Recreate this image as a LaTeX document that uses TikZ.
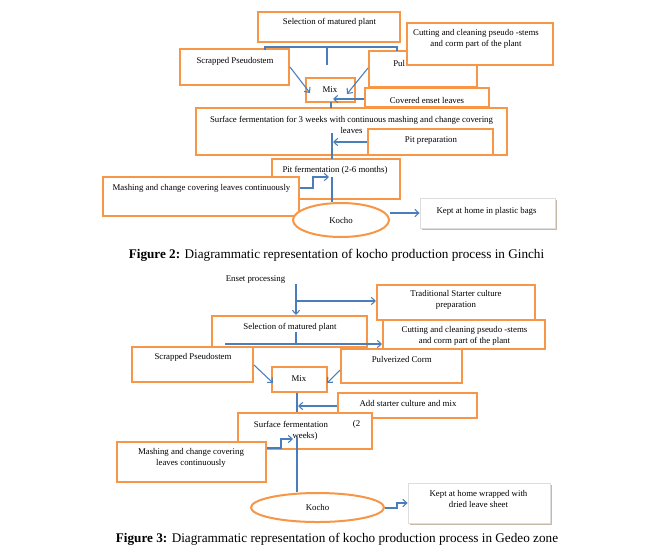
\documentclass[tikz,border=0pt]{standalone}
\usepackage{fontspec}
\setmainfont{Liberation Serif}
\usetikzlibrary{arrows.meta,shapes.geometric,fit}
\definecolor{orng}{HTML}{F79646}
\definecolor{blu}{HTML}{4A7EBB}
\definecolor{shd}{HTML}{C9B8A8}
\definecolor{kgr}{HTML}{DDDDDD}
\begin{document}
\begin{tikzpicture}[x=0.75pt,y=-0.75pt,
  obox/.style={draw=orng,line width=1.5pt,fill=white,inner sep=0pt},
  kbox/.style={draw=kgr,line width=0.6pt,fill=white,inner sep=0pt},
  ell/.style={ellipse,draw=orng,line width=1.5pt,fill=white,inner sep=0pt,font=\fontsize{6.6}{8.25}\selectfont},
  txt/.style={inner sep=0pt,font=\fontsize{6.6}{8.25}\selectfont,align=center},
  figcap/.style={inner sep=0pt,font=\fontsize{9.9}{11}\selectfont},
  ln/.style={draw=blu,line width=0.8pt},
  arr/.style={ln,-{Straight Barb[length=3pt,width=5.5pt]}}]
\useasboundingbox[fill=white] (0,0) rectangle (667,551);

% ================= Figure 2 =================
\node[obox,fit={(258,12)(400,42)}] (a1) {};
\node[txt] (ta1) at (329.5,22.5) {Selection of matured plant};
\node[obox,fit={(180,49)(289,85)}] (a2) {};
\node[txt] (ta2) at (235,61) {Scrapped Pseudostem};
\node[obox,fit={(369,51)(477,87)}] (a3) {};
\node[txt,anchor=west] (ta3) at (393,63) {Pul};
\node[obox,fit={(407,23)(553,65)}] (a4) {};
\node[txt] (ta4) at (476,38.8) {Cutting and cleaning pseudo -stems\\and corm part of the plant};
\node[obox,fit={(306,78)(355,102)}] (a5) {};
\node[txt] (ta5) at (330,89.5) {Mix};
\node[obox,fit={(365,88)(489,107)}] (a6) {};
\node[txt] (ta6) at (427,100) {Covered enset leaves};
\node[obox,fit={(196,108)(507,155)}] (a7) {};
\node[txt] (ta7) at (351.5,125) {Surface fermentation for 3 weeks with continuous mashing and change covering\\leaves};
\node[obox,fit={(368,129)(493,155)}] (a8) {};
\node[txt] (ta8) at (431,141) {Pit preparation};
\node[obox,fit={(272,159)(400,199)}] (a9) {};
\node[txt] (ta9) at (335,170.5) {Pit fermentation (2-6 months)};
\node[obox,fit={(103,177)(299,216)}] (a10) {};
\node[txt] (ta10) at (201.5,188) {Mashing and change covering leaves continuously};
\node[ell,minimum width=72pt,minimum height=25.5pt] (a11) at (341,220) {Kocho};
\fill[shd] (421.5,199.5) rectangle (556.5,229.5);
\node[kbox,fit={(420,198)(555,228)}] (a12) {};
\node[txt] (ta12) at (486.5,211.5) {Kept at home in plastic bags};

% connectors fig 2
\draw[ln] (265,50) -- (265,47) -- (397,47) -- (397,51);
\draw[ln] (327,47) -- (327,65);
\draw[arr] (a2.east |- 0,67) -- (310,93);
\draw[arr] (a3.west |- 0,68) -- (347,94);
\draw[arr] (a6.west |- 0,99) -- (333,99);
\draw[ln] (331,102) -- (331,108);
\draw[ln] (332,133) -- (332,159);
\draw[arr] (a8.west |- 0,142) -- (333,142);
\draw[ln] (332,177) -- (a11.north -| 332,0);
\draw[arr] (a10.east |- 0,188) -- (313,188) -- (313,177) -- (329,177);
\draw[arr] (a11.east |- 0,213) -- (a12.west |- 0,213);

\node[figcap] (c2) at (336.5,255) {\textbf{Figure 2:} Diagrammatic representation of kocho production process in Ginchi};

% ================= Figure 3 =================
\node[txt] (tb0) at (255.5,279.5) {Enset processing};
\node[obox,fit={(377,285)(535,320)}] (b1) {};
\node[txt] (tb1) at (456,300) {Traditional Starter culture\\preparation};
\node[obox,fit={(212,316)(367,347)}] (b2) {};
\node[txt] (tb2) at (290,327.5) {Selection of matured plant};
\node[obox,fit={(383,320)(545,349)}] (b3) {};
\node[txt] (tb3) at (464.5,336.3) {Cutting and cleaning pseudo -stems\\and corm part of the plant};
\node[obox,fit={(132,347)(253,382)}] (b4) {};
\node[txt] (tb4) at (193,357.5) {Scrapped Pseudostem};
\node[obox,fit={(341,349)(462,383)}] (b5) {};
\node[txt] (tb5) at (401.7,359) {Pulverized Corm};
\node[obox,fit={(272,367)(327,392)}] (b6) {};
\node[txt] (tb6) at (299,378.5) {Mix};
\node[obox,fit={(338,393)(477,418)}] (b7) {};
\node[txt] (tb7) at (408,403) {Add starter culture and mix};
\node[obox,fit={(238,413)(372,449)}] (b8) {};
\node[txt] (tb8a) at (291,424) {Surface fermentation};
\node[txt] (tb8b) at (356.5,424) {(2};
\node[txt] (tb8c) at (305,436) {weeks)};
\node[obox,fit={(117,442)(266,482)}] (b9) {};
\node[txt] (tb9) at (191,457.5) {Mashing and change covering\\leaves continuously};
\node[ell,minimum width=99.75pt,minimum height=21.75pt] (b10) at (317.5,507.5) {Kocho};
\fill[shd] (409.5,484.5) rectangle (551.5,524.5);
\node[kbox,fit={(408,483)(550,523)}] (b11) {};
\node[txt] (tb11) at (478.5,499) {Kept at home wrapped with\\dried leave sheet};

% connectors fig 3
\draw[arr] (296,284) -- (b2.north -| 296,0);
\draw[arr] (296,301) -- (b1.west |- 0,301);
\draw[ln] (296,332) -- (296,344);
\draw[arr] (225,344) -- (b3.west |- 0,344);
\draw[arr] (b4.east |- 0,365) -- (273,383);
\draw[arr] (b5.west |- 0,370) -- (327,383);
\draw[ln] (b6.south -| 297,0) -- (b8.north -| 297,0);
\draw[arr] (b7.west |- 0,406) -- (298,406);
\draw[ln] (297,437) -- (b10.north -| 297,0);
\draw[arr] (b9.east |- 0,448) -- (281,448) -- (281,439) -- (293,439);
\draw[arr] (b10.east |- 0,508) -- (397,508) -- (397,503) -- (b11.west |- 0,503);

\node[figcap] (c3) at (337,539) {\textbf{Figure 3:} Diagrammatic representation of kocho production process in Gedeo zone};
\end{tikzpicture}
\end{document}
